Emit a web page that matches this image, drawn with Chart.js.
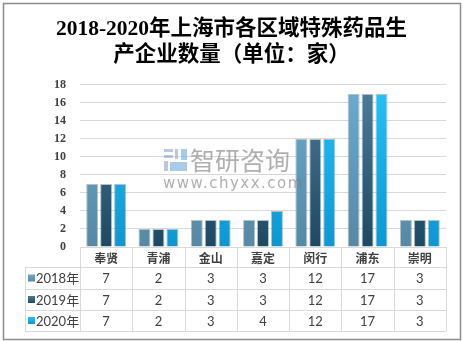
<!DOCTYPE html>
<html>
<head>
<meta charset="utf-8">
<script src="https://cdn.jsdelivr.net/npm/chart.js@4.4.1/dist/chart.umd.min.js"></script>
<style>
  html, body { margin: 0; padding: 0; background: #fff; }
  canvas { display: block; }
</style>
</head>
<body>
<canvas id="chart" width="463" height="341"></canvas>
<script>
// data
const categories = ['奉贤', '青浦', '金山', '嘉定', '闵行', '浦东', '崇明'];
const seriesNames = ['2018年', '2019年', '2020年'];
const values2018 = [7, 2, 3, 3, 12, 17, 3];
const values2019 = [7, 2, 3, 3, 12, 17, 3];
const values2020 = [7, 2, 3, 4, 12, 17, 3];
const yMax = 18;
const yStep = 2;

// top / bottom colours of each series gradient
const seriesColors = [
    ['#6cacce', '#5589a4'],
    ['#4d7c9b', '#1c4862'],
    ['#25c2fa', '#0c97d2']
];

function barGradient(i) {
    return function (context) {
        const chart = context.chart;
        const area = chart.chartArea;
        if (!area) return seriesColors[i][0];
        const g = chart.ctx.createLinearGradient(0, area.top, 0, area.bottom);
        g.addColorStop(0, seriesColors[i][0]);
        g.addColorStop(1, seriesColors[i][1]);
        return g;
    };
}

const seriesValues = [values2018, values2019, values2020];

const data = {
    labels: categories,
    datasets: seriesValues.map((vals, i) => ({
        label: seriesNames[i],
        data: vals,
        backgroundColor: barGradient(i),
        borderColor: 'rgba(120,140,150,0.55)',
        borderWidth: 1,
        categoryPercentage: 0.8,
        barPercentage: 0.86
    }))
};

// outer frame and white background
const framePlugin = {
    id: 'frame',
    beforeDraw(chart) {
        const ctx = chart.ctx;
        ctx.save();
        ctx.fillStyle = '#fff';
        ctx.fillRect(0, 0, chart.width, chart.height);
        ctx.strokeStyle = '#8c8c8c';
        ctx.lineWidth = 1.5;
        ctx.strokeRect(3.5, 3.5, chart.width - 6, chart.height - 5);
        ctx.restore();
    }
};

// data table under the plot, columns follow the x scale
const tablePlugin = {
    id: 'dataTable',
    afterDraw(chart) {
        const ctx = chart.ctx;
        const x = chart.scales.x;
        const area = chart.chartArea;
        const n = chart.data.labels.length;
        const colW = (area.right - area.left) / n;
        const top = area.bottom;
        const rowTops = [top, top + 20, top + 42, top + 63, top + 84];
        const legendLeft = 25;

        ctx.save();
        ctx.strokeStyle = '#d9d9d9';
        ctx.lineWidth = 1;
        ctx.beginPath();
        // horizontal lines
        ctx.moveTo(area.left, rowTops[0] + 0.5);
        ctx.lineTo(area.right, rowTops[0] + 0.5);
        for (let r = 1; r < rowTops.length; r++) {
            ctx.moveTo(legendLeft, rowTops[r] + 0.5);
            ctx.lineTo(area.right, rowTops[r] + 0.5);
        }
        // vertical lines
        for (let c = 0; c <= n; c++) {
            const px = Math.round(area.left + c * colW) + 0.5;
            ctx.moveTo(px, rowTops[0]);
            ctx.lineTo(px, rowTops[4]);
        }
        ctx.moveTo(legendLeft + 0.5, rowTops[1]);
        ctx.lineTo(legendLeft + 0.5, rowTops[4]);
        ctx.stroke();

        ctx.textAlign = 'center';
        ctx.textBaseline = 'middle';
        ctx.fillStyle = '#404040';
        ctx.font = 'bold 12px "Noto Sans CJK SC", sans-serif';
        chart.data.labels.forEach((lab, i) => {
            ctx.fillText(lab, x.getPixelForValue(i), (rowTops[0] + rowTops[1]) / 2 + 1);
        });

        ctx.font = '13px Lato, "Noto Sans CJK SC", sans-serif';
        chart.data.datasets.forEach((ds, r) => {
            const cy = (rowTops[r + 1] + rowTops[r + 2]) / 2 + 1;
            ds.data.forEach((v, i) => {
                ctx.fillText(String(v), x.getPixelForValue(i), cy);
            });
        });

        // legend column
        ctx.textAlign = 'left';
        ctx.font = '13px Lato, "Noto Sans CJK SC", sans-serif';
        chart.data.datasets.forEach((ds, r) => {
            const cy = (rowTops[r + 1] + rowTops[r + 2]) / 2;
            const g = ctx.createLinearGradient(0, cy - 4, 0, cy + 4);
            g.addColorStop(0, seriesColors[r][0]);
            g.addColorStop(1, seriesColors[r][1]);
            ctx.fillStyle = g;
            ctx.fillRect(28, cy - 3.5, 7, 7);
            ctx.fillStyle = '#404040';
            ctx.fillText(ds.label, 36, cy + 1);
        });
        ctx.restore();
    }
};

// faint watermark over the plot
const watermarkPlugin = {
    id: 'watermark',
    afterDatasetsDraw(chart) {
        const ctx = chart.ctx;
        ctx.save();
        ctx.globalAlpha = 0.6;
        ctx.fillStyle = '#8ea4c9';
        ctx.fillRect(164, 149, 9, 3);
        ctx.fillRect(164, 155, 9, 3);
        ctx.fillRect(164, 161, 4, 10);
        ctx.fillRect(175, 149, 3, 10);
        ctx.fillStyle = '#6fa9dc';
        ctx.fillRect(170, 162, 17, 9);
        ctx.fillRect(181, 149, 6, 11);
        ctx.fillStyle = '#7a7a7a';
        ctx.textBaseline = 'middle';
        ctx.textAlign = 'left';
        ctx.font = '25px "Noto Sans CJK SC", sans-serif';
        ctx.fillText('智研咨询', 190, 160);
        ctx.font = '15px "DejaVu Sans", sans-serif';
        ctx.letterSpacing = '1.5px';
        ctx.fillText('www.chyxx.com', 163, 184);
        ctx.restore();
    }
};

const config = {
    type: 'bar',
    data,
    options: {
        responsive: false,
        animation: false,
        layout: {
            padding: { left: 17, right: 17, top: 0, bottom: 94 }
        },
        plugins: {
            legend: { display: false },
            tooltip: { enabled: false },
            title: {
                display: true,
                text: ['2018-2020年上海市各区域特殊药品生', '产企业数量（单位：家）'],
                color: '#000',
                font: { family: '"Liberation Serif", "Noto Sans CJK SC", serif', size: 21.5, weight: 'bold', lineHeight: 1.22 },
                padding: { top: 16, bottom: 16.5 }
            }
        },
        scales: {
            x: {
                display: false
            },
            y: {
                min: 0,
                max: yMax,
                ticks: {
                    stepSize: yStep,
                    color: '#404040',
                    padding: 14,
                    font: { family: '"Liberation Serif", serif', size: 12, weight: 'bold' }
                },
                grid: { color: '#d9d9d9', drawTicks: false },
                border: { display: false },
                afterFit(scale) { scale.width = 63; }
            }
        }
    },
    plugins: [framePlugin, tablePlugin, watermarkPlugin]
};

new Chart(document.getElementById('chart'), config);
</script>
</body>
</html>
